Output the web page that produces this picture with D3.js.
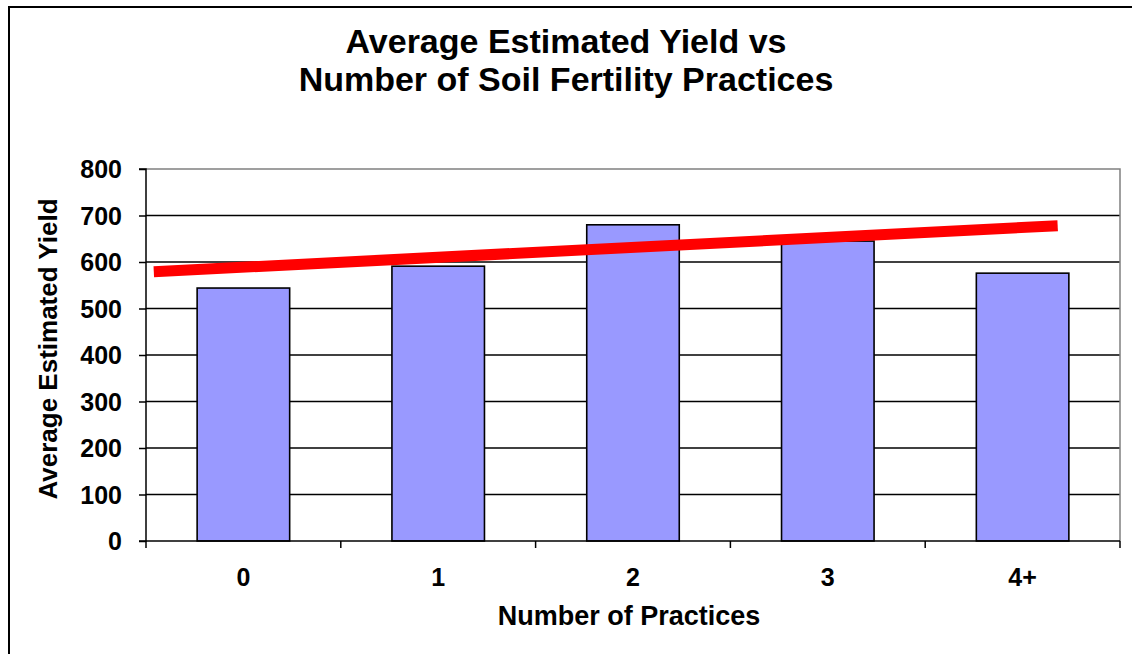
<!DOCTYPE html>
<html><head><meta charset="utf-8">
<script src="https://cdn.jsdelivr.net/npm/d3@7"></script>
<style>body{margin:0;background:#fff}svg{display:block}text{font-family:"Liberation Sans",Arial,sans-serif;font-weight:bold;fill:#000}</style>
</head><body>
<script>
const categories = ["0","1","2","3","4+"];
const yieldValues = [544, 591, 680, 645, 576];
const yTicks = [0,100,200,300,400,500,600,700,800];
const trendIndex = [-0.46, 4.18];
const trendValues = [579, 678];
const titleLines = ["Average Estimated Yield vs","Number of Soil Fertility Practices"];

const W=1132,H=654;
const svg=d3.select("body").append("svg").attr("width",W).attr("height",H);
svg.append("rect").attr("x",9).attr("y",7).attr("width",1140).attr("height",660)
  .attr("fill","none").attr("stroke","#000").attr("stroke-width",2);

const L=146,R=1120,T=169,B=541;
const x=d3.scaleBand().domain(categories).range([L,R]).paddingInner(0.525).paddingOuter(0.2625);
const xi=d3.scaleLinear().domain([0,4]).range([x(categories[0])+x.bandwidth()/2,x(categories[4])+x.bandwidth()/2]);
const y=d3.scaleLinear().domain([0,800]).range([B,T]);

// gridlines
svg.append("g").selectAll("line").data(yTicks.filter(d=>d>0&&d<800)).join("line")
  .attr("x1",L).attr("x2",R).attr("y1",d=>y(d)).attr("y2",d=>y(d)).attr("stroke","#000").attr("stroke-width",1.4);
// plot border top/right grey
svg.append("path").attr("d",`M${L},${T}H${R}V${B}`).attr("fill","none").attr("stroke","#808080").attr("stroke-width",1.5);

// bars
svg.append("g").selectAll("rect").data(yieldValues).join("rect")
  .attr("x",(d,i)=>x(categories[i])).attr("width",x.bandwidth())
  .attr("y",d=>y(d)).attr("height",d=>B-y(d))
  .attr("fill","#9999FF").attr("stroke","#000").attr("stroke-width",1.6);

// trend
svg.append("path").datum(trendIndex.map((d,i)=>[d,trendValues[i]]))
  .attr("d",d3.line().x(d=>xi(d[0])).y(d=>y(d[1])))
  .attr("stroke","#FF0000").attr("stroke-width",11).attr("fill","none");

// y axis
const ya=svg.append("g").attr("transform",`translate(${L},0)`)
  .call(d3.axisLeft(y).tickValues(yTicks).tickSize(7).tickPadding(17));
ya.attr("font-size",null).attr("font-family",null);
ya.selectAll("text").style("font-size","25px").attr("dy","0.35em");
ya.selectAll("path,line").attr("stroke","#000").attr("stroke-width",1.5);
ya.select(".domain").attr("d",`M-7,${T}H0V${B}H-7`);

// x axis
const xa=svg.append("g").attr("transform",`translate(0,${B})`);
xa.append("line").attr("x1",L).attr("x2",R).attr("stroke","#000").attr("stroke-width",1.5);
const bounds=d3.range(categories.length+1).map(i=>L+(R-L)*i/categories.length);
xa.selectAll("line.t").data(bounds).join("line").attr("class","t")
  .attr("x1",d=>d).attr("x2",d=>d).attr("y1",0).attr("y2",7).attr("stroke","#000").attr("stroke-width",1.5);
xa.selectAll("text").data(categories).join("text")
  .attr("x",d=>x(d)+x.bandwidth()/2).attr("y",45).attr("text-anchor","middle").style("font-size","25px").text(d=>d);

// titles
svg.selectAll("text.title").data(titleLines).join("text").attr("class","title")
  .attr("x",566).attr("y",(d,i)=>53+i*38).attr("text-anchor","middle").style("font-size","34px").text(d=>d);
svg.append("text").attr("x",629).attr("y",625).attr("text-anchor","middle").style("font-size","27px").text("Number of Practices");
svg.append("text").attr("transform","translate(57,349) rotate(-90)").attr("text-anchor","middle").style("font-size","26px").text("Average Estimated Yield");
</script>
</body></html>
